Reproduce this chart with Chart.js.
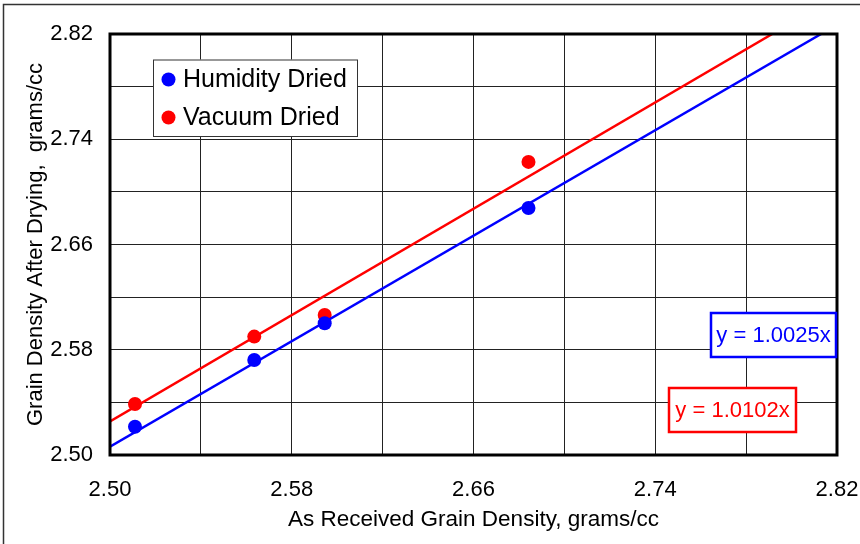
<!DOCTYPE html>
<html><head><meta charset="utf-8">
<script src="https://cdn.jsdelivr.net/npm/chart.js@4/dist/chart.umd.min.js"></script>
<style>html,body{margin:0;padding:0;background:#fff;}#wrap{position:relative;width:860px;height:544px;}canvas{display:block;}</style>
</head><body><div id="wrap"><canvas id="c" width="860" height="544"></canvas></div>
<script>
const seriesNames = ['Humidity Dried', 'Vacuum Dried'];
const seriesColors = ['#0000FF', '#FF0000'];
const humidityX = [2.511, 2.5635, 2.5945, 2.6842];
const humidityY = [2.5215, 2.5722, 2.6001, 2.6878];
const vacuumX = [2.511, 2.5635, 2.5945, 2.6842];
const vacuumY = [2.5388, 2.5900, 2.6065, 2.7228];
const humidityFitX = [2.50, 2.8130];
const humidityFitY = [2.5063, 2.8200];
const vacuumFitX = [2.50, 2.7915];
const vacuumFitY = [2.5255, 2.8200];
const fitLabels = ['y = 1.0025x', 'y = 1.0102x'];
const xTickLabels = ['2.50', '2.58', '2.66', '2.74', '2.82'];
const yTickLabels = ['2.50', '2.58', '2.66', '2.74', '2.82'];
const xTitle = 'As Received Grain Density, grams/cc';
const yTitle = 'Grain Density After Drying,  grams/cc';
const axisMin = 2.50, axisMax = 2.82, gridStep = 0.04;

const FONT = '"Liberation Sans", Arial, sans-serif';
const pts = (xs, ys) => xs.map((x, i) => ({x: x, y: ys[i]}));
const labelFor = (list) => (v) => {
  const m = list.find(s => Math.abs(parseFloat(s) - v) < 1e-6);
  return m === undefined ? '' : m;
};

const decor = {
  id: 'decor',
  afterDraw(chart) {
    const ctx = chart.ctx, a = chart.chartArea;
    ctx.save();
    ctx.strokeStyle = '#333'; ctx.lineWidth = 1.5;
    ctx.beginPath(); ctx.moveTo(3.5, 544); ctx.lineTo(3.5, 4.5); ctx.lineTo(860, 4.5); ctx.stroke();
    ctx.strokeStyle = '#000'; ctx.lineWidth = 3;
    ctx.strokeRect(a.left, a.top, a.right - a.left, a.bottom - a.top);
    const lx = 153, ly = 59.5, lw = 204, lh = 76.5;
    ctx.fillStyle = '#fff'; ctx.fillRect(lx, ly, lw, lh);
    ctx.strokeStyle = '#333'; ctx.lineWidth = 1; ctx.strokeRect(lx + 0.5, ly + 0.5, lw, lh);
    const rows = [79.5, 117.5];
    chart.data.datasets.filter(d => d.isSeries).forEach((d, i) => {
      ctx.fillStyle = d.backgroundColor;
      ctx.beginPath(); ctx.arc(168.5, rows[i], 7, 0, Math.PI * 2); ctx.fill();
      ctx.fillStyle = '#000'; ctx.font = '25px ' + FONT;
      ctx.textAlign = 'left'; ctx.textBaseline = 'middle';
      ctx.fillText(d.label, 183, rows[i] + 1);
    });
    const boxes = [[711, 313, 125, 44], [669, 388, 127, 44]];
    boxes.forEach((b, i) => {
      ctx.fillStyle = '#fff'; ctx.fillRect(b[0], b[1], b[2], b[3]);
      ctx.strokeStyle = seriesColors[i]; ctx.lineWidth = 2.5; ctx.strokeRect(b[0], b[1], b[2], b[3]);
      ctx.fillStyle = seriesColors[i]; ctx.font = '22px ' + FONT;
      ctx.textAlign = 'center'; ctx.textBaseline = 'middle';
      ctx.fillText(fitLabels[i], b[0] + b[2] / 2, b[1] + b[3] / 2 + 1);
    });
    ctx.restore();
  }
};

new Chart(document.getElementById('c'), {
  type: 'scatter',
  data: {
    datasets: [
      {label: 'fitH', type: 'line', data: pts(humidityFitX, humidityFitY), borderColor: seriesColors[0], borderWidth: 2.5, pointRadius: 0, fill: false, order: 0},
      {label: 'fitV', type: 'line', data: pts(vacuumFitX, vacuumFitY), borderColor: seriesColors[1], borderWidth: 2.5, pointRadius: 0, fill: false, order: 1},
      {label: seriesNames[0], isSeries: true, data: pts(humidityX, humidityY), backgroundColor: seriesColors[0], borderWidth: 0, pointRadius: 7, order: 2},
      {label: seriesNames[1], isSeries: true, data: pts(vacuumX, vacuumY), backgroundColor: seriesColors[1], borderWidth: 0, pointRadius: 7, order: 3}
    ]
  },
  options: {
    responsive: false, animation: false, devicePixelRatio: 1,
    layout: {padding: {top: 34, right: 23, left: 0, bottom: 0}},
    plugins: {legend: {display: false}, tooltip: {enabled: false}},
    scales: {
      x: {
        type: 'linear', min: axisMin, max: axisMax,
        afterFit: s => { s.height = 89; s.paddingLeft = 0; s.paddingRight = 0; },
        grid: {color: '#222', lineWidth: 1, drawTicks: false},
        border: {display: false},
        ticks: {stepSize: gridStep, padding: 22, color: '#000', font: {family: FONT, size: 22}, callback: labelFor(xTickLabels), maxRotation: 0, autoSkip: false},
        title: {display: true, text: xTitle, color: '#000', font: {family: FONT, size: 22.5}, padding: {top: 0, bottom: 11}}
      },
      y: {
        type: 'linear', min: axisMin, max: axisMax,
        afterFit: s => { s.width = 110; s.paddingTop = 0; s.paddingBottom = 0; },
        grid: {color: '#222', lineWidth: 1, drawTicks: false},
        border: {display: false},
        ticks: {stepSize: gridStep, padding: 17, color: '#000', font: {family: FONT, size: 22}, callback: labelFor(yTickLabels), autoSkip: false},
        title: {display: true, text: yTitle, color: '#000', font: {family: FONT, size: 22}, padding: {top: 23, bottom: 0}}
      }
    }
  },
  plugins: [decor]
});
</script></body></html>
